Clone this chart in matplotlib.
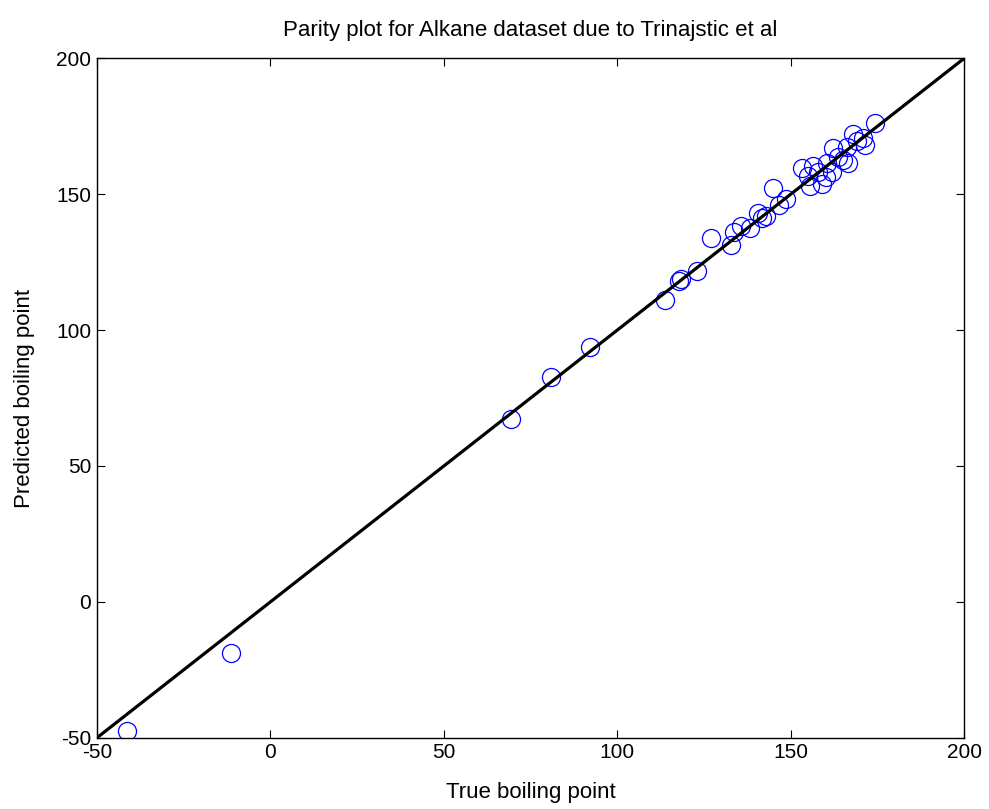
import numpy as np
import matplotlib
matplotlib.use('Agg')
import matplotlib.pyplot as plt

plt.rcParams['font.family'] = ['Liberation Sans', 'DejaVu Sans']
plt.rcParams['axes.unicode_minus'] = False

# true vs predicted boiling points
true_bp = [-41.3, -11.4, 69.4, 80.9, 92.2, 113.8, 117.8, 118.4, 123.0, 127.0,
           132.8, 133.7, 135.7, 138.3, 140.6, 141.8, 142.9, 144.9, 146.7, 148.7,
           153.3, 155.6, 155.0, 156.5, 157.9, 159.1, 160.2, 160.5, 161.9, 162.2,
           163.7, 165.1, 166.6, 166.3, 168.0, 169.1, 170.9, 171.5, 174.3]
pred_bp = [-47.4, -18.8, 67.3, 82.7, 93.7, 111.0, 118.0, 118.8, 121.7, 133.8,
           131.2, 136.0, 138.2, 137.5, 143.0, 141.2, 141.9, 152.2, 146.0, 148.2,
           159.6, 152.9, 156.6, 160.3, 158.1, 153.7, 156.2, 161.4, 158.1, 166.9,
           163.6, 162.5, 161.4, 167.3, 172.1, 169.5, 170.6, 168.0, 176.1]
parity = [-50, 200]
ticks = [-50, 0, 50, 100, 150, 200]

fig = plt.figure(figsize=(9.89, 8.09), dpi=100, facecolor='white')
ax = fig.add_axes([0.098, 0.088, 0.877, 0.84])

ax.plot(true_bp, pred_bp, 'o', mfc='none', mec='blue', ms=13, mew=0.9)
ax.plot(parity, parity, '-', color='black', lw=2.3)

ax.set_xlim(-50, 200)
ax.set_ylim(-50, 200)
ax.set_xticks(ticks)
ax.set_yticks(ticks)
ax.tick_params(direction='in', top=True, right=True, length=6, labelsize=15, pad=4)
for s in ax.spines.values():
    s.set_linewidth(1.0)

ax.set_title('Parity plot for Alkane dataset due to Trinajstic et al', fontsize=16, pad=16)
ax.set_xlabel('True boiling point', fontsize=16, labelpad=14)
ax.set_ylabel('Predicted boiling point', fontsize=16, labelpad=15)

fig.savefig('out.png', dpi=100)
